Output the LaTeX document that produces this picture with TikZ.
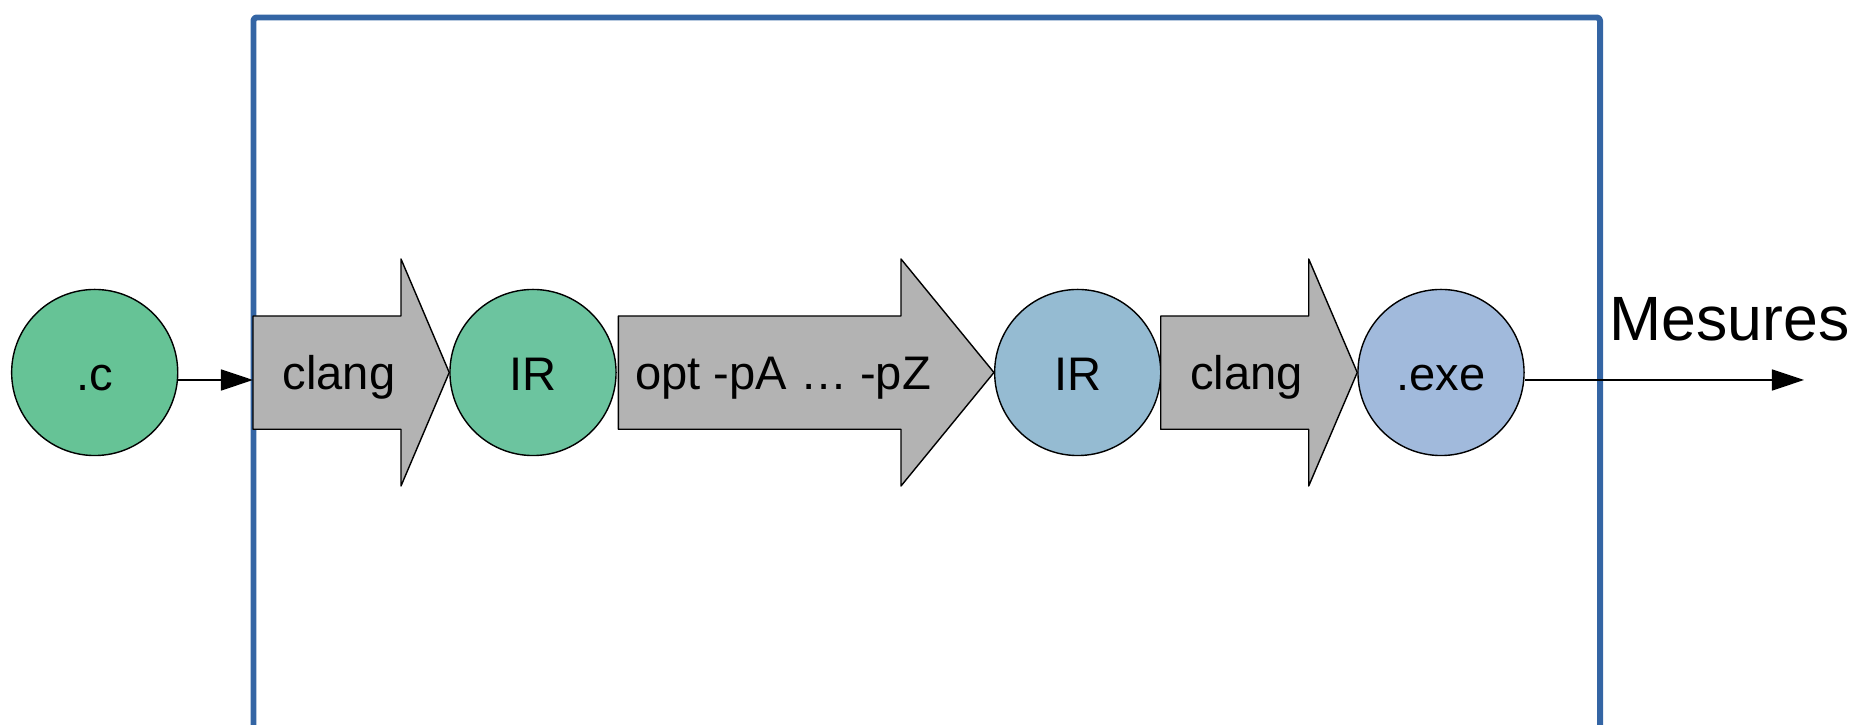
\documentclass[tikz,border=0pt]{standalone}
\usepackage{fontspec}
\setmainfont{Liberation Sans}
\usetikzlibrary{arrows.meta}
\definecolor{vertc}{HTML}{66C396}
\definecolor{vertir}{HTML}{6CC49F}
\definecolor{bleuir}{HTML}{95BBD2}
\definecolor{bleuexe}{HTML}{A1BADC}
\definecolor{grisfleche}{HTML}{B3B3B3}
\definecolor{bleucadre}{HTML}{3465A4}
\begin{document}
\begin{tikzpicture}[x=0.01cm, y=-0.01cm, line join=round, >={Triangle[length=0.32cm,width=0.21cm]},
  rond/.style={circle, draw=black, line width=0.4pt, minimum size=1.66cm, inner sep=0pt, text height=0.35cm, text depth=0pt, font=\fontsize{13.4}{16}\selectfont},
  grosse/.style={draw=black, line width=0.4pt, fill=grisfleche},
  etiq/.style={anchor=base, inner sep=0pt, font=\fontsize{13.4}{16}\selectfont},
  cadre/.style={draw=bleucadre, line width=1.7pt, rounded corners=0.03cm}]
\useasboundingbox (0,0) rectangle (1857,725);
% cadre
\draw[cadre] (253.5,740) -- (253.5,17.5) -- (1600,17.5) -- (1600,740);
% etapes
\node[rond, fill=vertc] (c) at (94.7,372.5) {.c};
\node[rond, fill=vertir] (ir1) at (533,372.5) {IR};
\node[rond, fill=bleuir] (ir2) at (1077.7,372.5) {IR};
\node[rond, fill=bleuexe] (exe) at (1441,372.5) {.exe};
% passes
\foreach \a/\b/\n in {253/401/ir1, 618.3/901/ir2, 1160.7/1308.7/exe}
  \draw[grosse] (\a,316) -- (\b,316) -- (\b,259) -- (\n.west) -- (\b,486) -- (\b,429.3) -- (\a,429.3) -- cycle;
\node[etiq] (t1) at (339,390) {clang};
\node[etiq] (t2) at (783,390) {opt -pA … -pZ};
\node[etiq] (t3) at (1246.6,390) {clang};
% entree / sortie
\coordinate (entree) at (253,380);
\coordinate (sortie) at (1804,380);
\draw[->, line width=0.4pt] (c.east |- entree) -- (entree);
\draw[->, line width=0.4pt] (exe.east |- sortie) -- (sortie);
\node[anchor=base west, inner sep=0pt, font=\fontsize{17.8}{20}\selectfont] (mesures) at (1609,341) {Mesures};
\end{tikzpicture}
\end{document}
